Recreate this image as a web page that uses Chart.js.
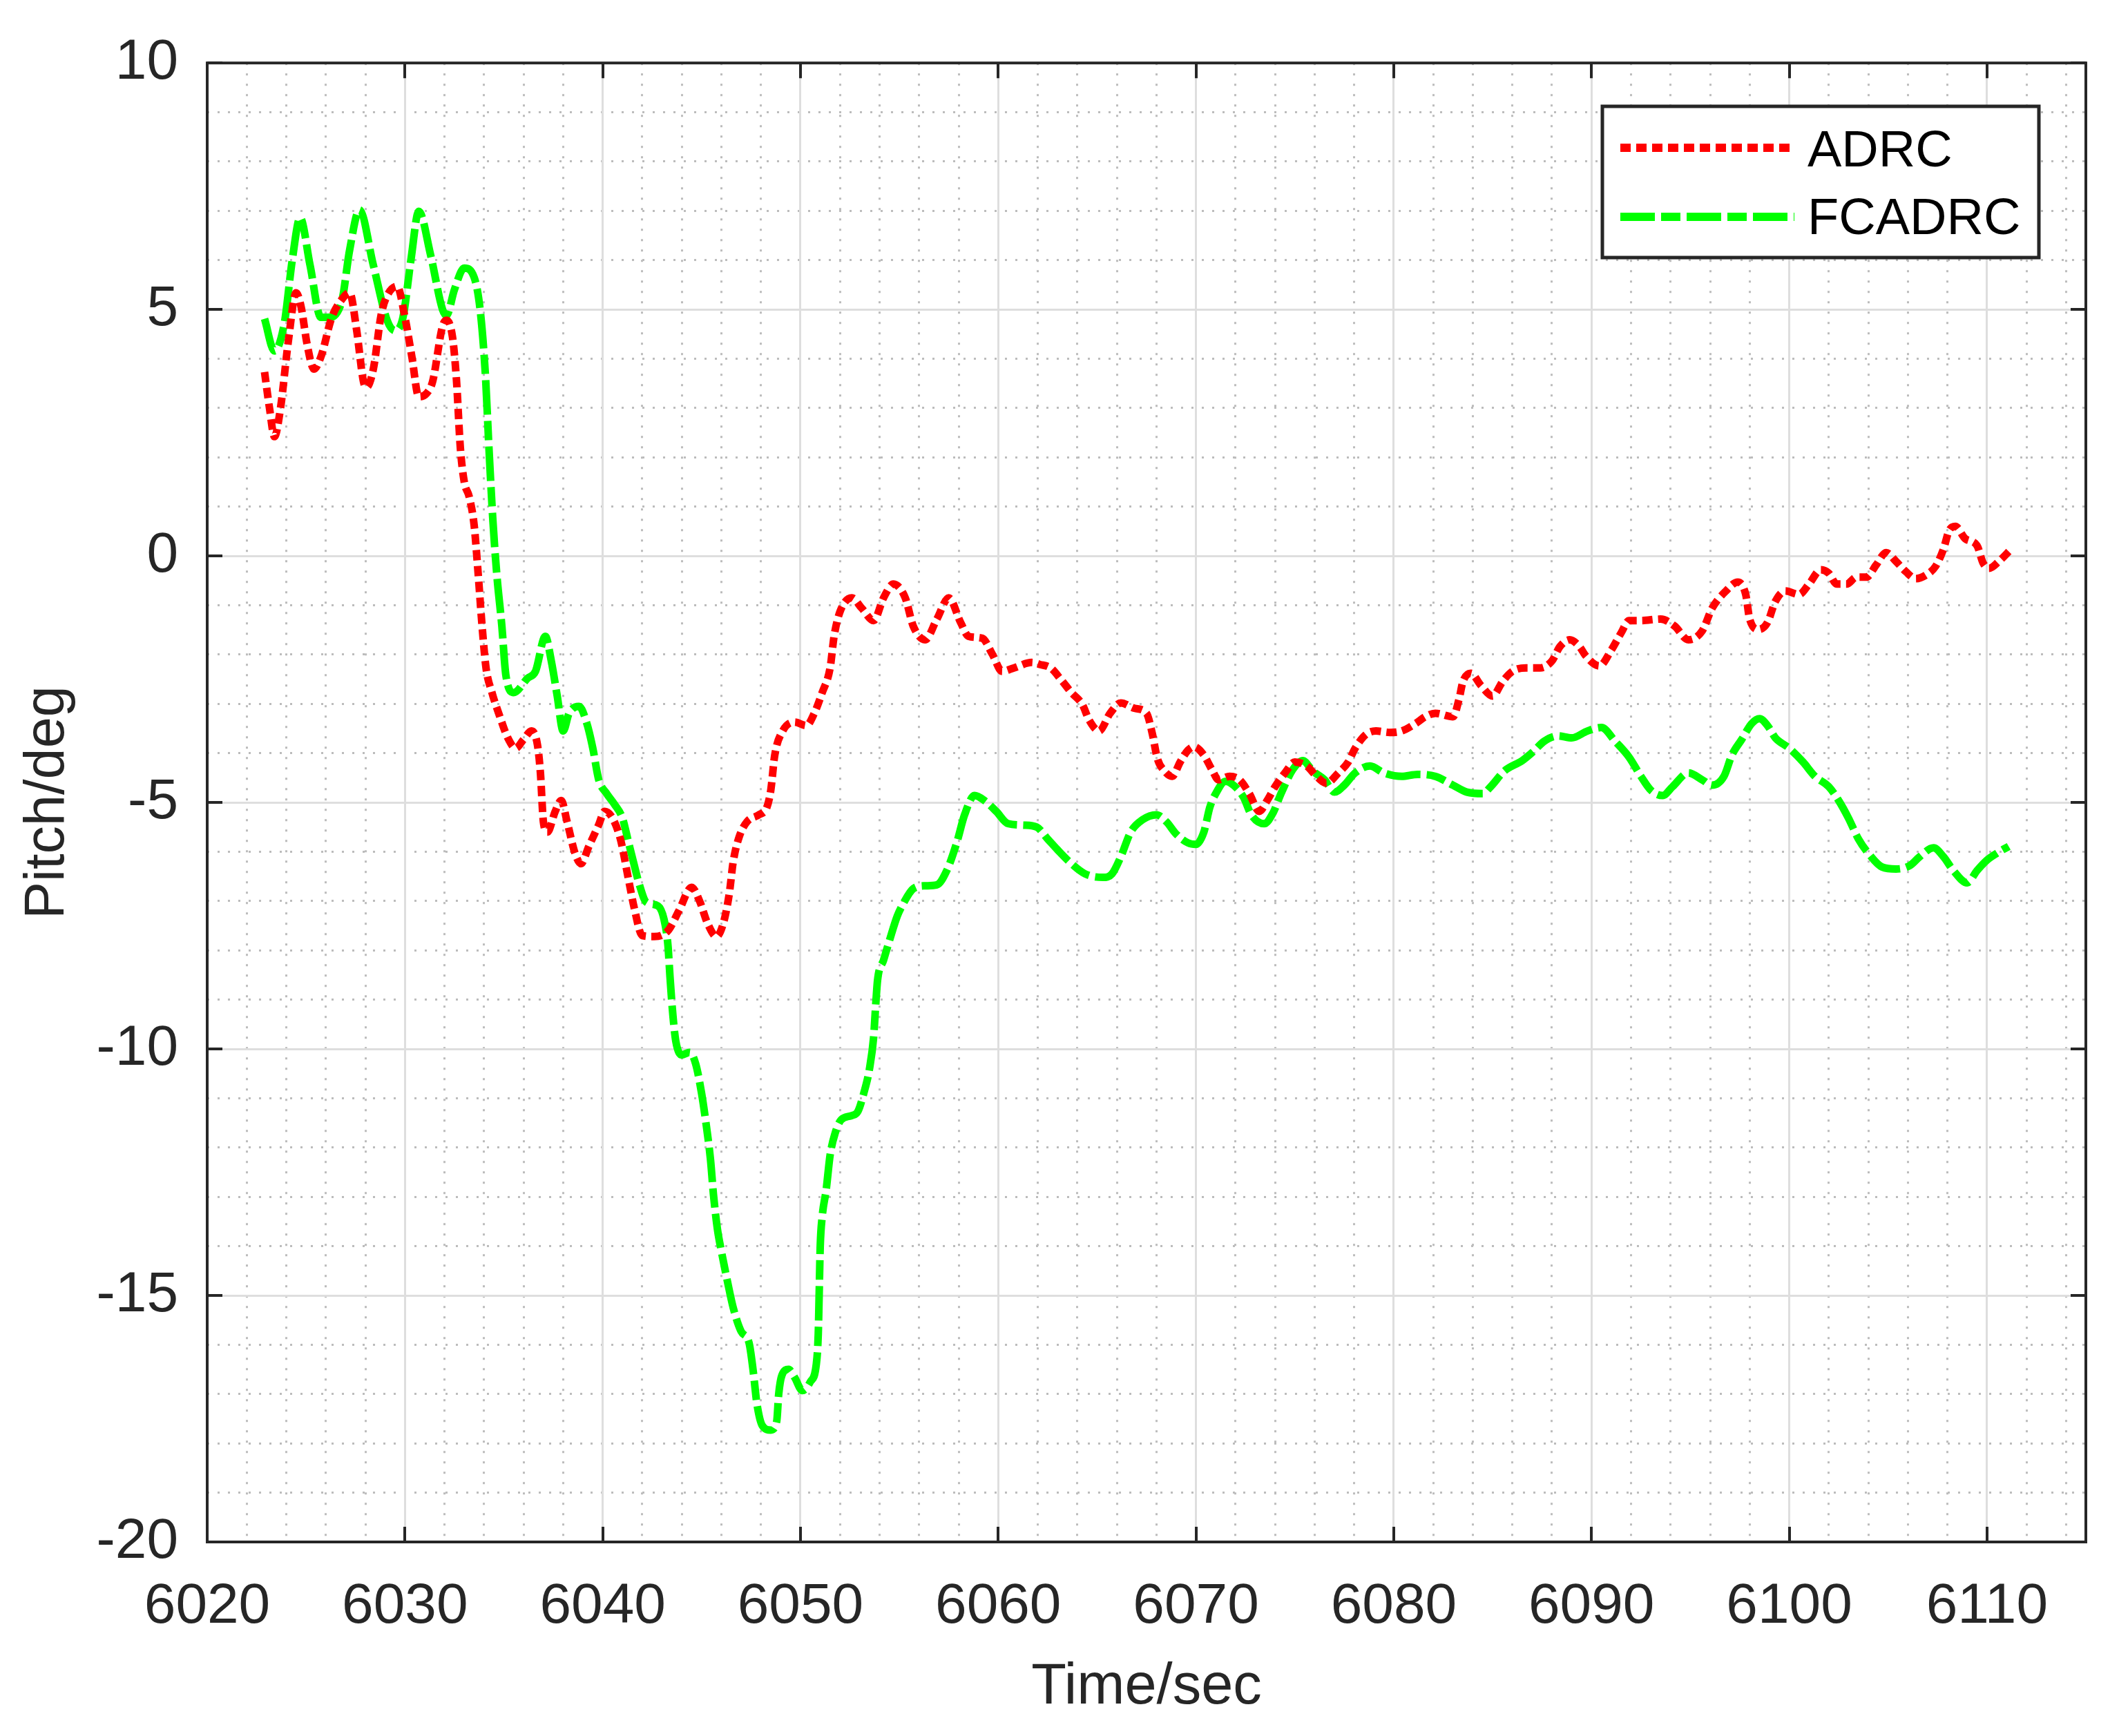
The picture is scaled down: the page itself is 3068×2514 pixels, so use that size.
<!DOCTYPE html>
<html>
<head>
<meta charset="utf-8">
<script src="https://cdn.jsdelivr.net/npm/chart.js@4.4.1/dist/chart.umd.min.js"></script>
<style>
html,body{margin:0;padding:0;background:#ffffff;}
canvas{display:block;}
</style>
</head>
<body>
<canvas id="c" width="3068" height="2514"></canvas>
<script>
// ---------------- data ----------------
const seriesLabels = ['ADRC', 'FCADRC'];
const xTitle = 'Time/sec';
const yTitle = 'Pitch/deg';
const xTickValues = [6020, 6030, 6040, 6050, 6060, 6070, 6080, 6090, 6100, 6110];
const yTickValues = [-20, -15, -10, -5, 0, 5, 10];

const adrcTime = [
6022.9,6023.15,6023.4,6023.7,6024.1,6024.5,6024.75,6025.05,6025.4,6025.75,6026.3,6026.8,6027.2,6027.55,6027.9,6028.05,6028.4,6028.8,6029.1,6029.6,
6030.0,6030.35,6030.7,6031.1,6031.4,6031.9,6032.1,6032.4,6032.6,6032.8,6033.0,6033.25,6033.5,6033.7,6033.9,6034.1,6034.4,6034.8,6035.2,6035.6,
6036.0,6036.4,6036.7,6036.85,6037.0,6037.2,6037.6,6037.9,6038.2,6038.6,6038.9,6039.3,6039.8,6040.1,6040.5,6040.9,6041.3,6041.6,6042.0,6042.6,
6043.3,6043.85,6044.5,6044.9,6045.3,6045.75,6046.1,6046.4,6046.6,6046.9,6047.3,6047.9,6048.3,6048.5,6048.7,6049.1,6049.7,6050.3,6050.7,6051.1,
6051.5,6051.7,6052.0,6052.6,6053.1,6053.7,6054.2,6054.7,6055.3,6055.7,6056.3,6056.9,6057.5,6058.1,6058.5,6059.2,6059.7,6060.2,6060.8,6061.7,
6062.1,6062.65,6063.2,6063.7,6064.25,6064.6,6065.1,6065.66,6066.2,6066.9,6067.5,6067.8,6068.05,6068.4,6068.8,6069.2,6069.6,6069.9,6070.4,6070.8,
6071.15,6071.7,6072.2,6072.7,6073.2,6073.6,6074.0,6074.5,6075.0,6075.6,6076.1,6076.6,6077.2,6077.7,6078.05,6078.6,6079.1,6079.8,6080.4,6081.1,
6081.6,6082.1,6083.0,6083.3,6083.5,6083.9,6084.4,6085.0,6085.5,6086.0,6086.7,6087.4,6088.0,6088.4,6088.9,6089.4,6089.7,6090.4,6091.0,6091.5,
6091.9,6092.5,6093.5,6094.2,6094.9,6095.6,6096.1,6096.8,6097.4,6097.8,6098.0,6098.46,6098.9,6099.3,6099.8,6100.5,6101.0,6101.6,6102.0,6102.4,
6102.9,6103.4,6103.9,6104.4,6104.9,6105.4,6105.9,6106.4,6106.9,6107.4,6107.8,6108.1,6108.4,6108.9,6109.5,6109.8,6110.1,6110.6,6111.15
];
const adrcPitch = [
3.73,3.0,2.42,2.98,4.35,5.34,5.05,4.3,3.79,4.04,4.84,5.2,5.34,4.6,3.54,3.42,3.79,4.9,5.28,5.47,
4.84,4.04,3.23,3.3,3.54,4.66,4.78,4.45,3.6,2.2,1.5,1.2,0.62,-0.35,-1.42,-2.27,-2.77,-3.26,-3.69,-3.9,
-3.72,-3.55,-3.83,-4.4,-5.39,-5.6,-5.18,-4.96,-5.39,-6.03,-6.24,-5.89,-5.45,-5.18,-5.32,-5.75,-6.55,-7.15,-7.7,-7.72,
-7.6,-7.2,-6.72,-7.0,-7.45,-7.72,-7.45,-6.85,-6.2,-5.7,-5.39,-5.25,-5.1,-4.75,-4.04,-3.55,-3.37,-3.44,-3.19,-2.77,
-2.27,-1.63,-1.13,-0.85,-1.06,-1.31,-0.85,-0.57,-0.85,-1.42,-1.7,-1.28,-0.85,-1.35,-1.63,-1.67,-1.99,-2.34,-2.27,-2.16,
-2.2,-2.27,-2.52,-2.77,-3.01,-3.33,-3.55,-3.19,-2.98,-3.09,-3.19,-3.62,-4.11,-4.36,-4.47,-4.18,-3.94,-3.87,-4.04,-4.33,
-4.54,-4.47,-4.54,-4.82,-5.18,-4.96,-4.68,-4.4,-4.18,-4.26,-4.47,-4.61,-4.4,-4.18,-3.9,-3.62,-3.55,-3.58,-3.55,-3.4,
-3.26,-3.19,-3.26,-2.91,-2.55,-2.38,-2.62,-2.84,-2.55,-2.34,-2.27,-2.27,-2.13,-1.84,-1.7,-1.84,-2.02,-2.23,-1.91,-1.56,
-1.31,-1.31,-1.28,-1.42,-1.7,-1.52,-1.06,-0.71,-0.53,-0.78,-1.28,-1.49,-1.35,-0.92,-0.71,-0.78,-0.57,-0.28,-0.35,-0.57,
-0.57,-0.43,-0.43,-0.18,0.07,-0.11,-0.32,-0.46,-0.39,-0.21,0.14,0.53,0.6,0.35,0.21,-0.14,-0.25,-0.11,0.11
];

const fcadrcTime = [
6022.9,6023.4,6023.9,6024.3,6024.7,6025.2,6025.75,6026.1,6026.8,6027.2,6027.7,6028.4,6029.1,6029.5,6029.9,6030.3,6030.7,6031.3,6031.9,6032.1,
6032.5,6033.0,6033.5,6033.8,6034.07,6034.25,6034.45,6034.65,6034.9,6035.1,6035.5,6036.2,6036.6,6037.1,6037.4,6037.7,6038.0,6038.3,6038.8,6039.2,
6039.5,6039.8,6040.2,6040.6,6041.0,6041.3,6041.55,6041.85,6042.2,6042.8,6043.1,6043.3,6043.4,6043.55,6043.7,6044.0,6044.4,6044.7,6045.0,6045.2,
6045.45,6045.6,6045.8,6046.0,6046.3,6046.6,6047.0,6047.4,6047.6,6047.8,6048.07,6048.5,6048.8,6048.9,6049.06,6049.4,6049.7,6050.1,6050.5,6050.8,
6050.9,6050.95,6051.0,6051.1,6051.3,6051.5,6051.76,6052.05,6052.6,6052.9,6053.2,6053.5,6053.7,6053.8,6053.9,6054.2,6054.5,6054.9,6055.2,6055.7,
6056.3,6056.9,6057.4,6057.9,6058.3,6058.8,6059.3,6059.9,6060.5,6061.3,6061.95,6062.5,6063.0,6063.7,6064.4,6065.3,6065.75,6066.2,6066.7,6067.3,
6068.0,6068.5,6069.0,6069.6,6070.0,6070.4,6070.7,6071.0,6071.5,6071.9,6072.4,6072.8,6073.45,6073.9,6074.3,6074.9,6075.4,6075.9,6076.5,6077.0,
6077.5,6078.05,6078.8,6079.5,6080.4,6081.2,6082.1,6083.0,6083.7,6084.5,6084.9,6085.6,6086.5,6087.05,6087.6,6088.3,6089.0,6089.8,6090.5,6091.2,
6091.9,6092.5,6093.0,6093.6,6094.1,6094.9,6095.6,6096.1,6096.7,6097.1,6097.6,6098.1,6098.5,6098.9,6099.3,6100.0,6100.7,6101.3,6102.0,6102.5,
6103.0,6103.5,6104.0,6104.7,6105.4,6106.1,6106.6,6107.3,6107.8,6108.3,6109.0,6109.5,6110.0,6110.5,6111.1
];
const fcadrcPitch = [
4.81,4.16,4.72,6.0,6.86,5.9,4.84,4.84,5.16,6.2,7.02,5.9,4.78,4.57,4.84,6.0,6.99,6.1,5.0,4.88,
5.4,5.84,5.65,5.0,3.66,2.17,0.7,-0.4,-1.42,-2.41,-2.77,-2.48,-2.34,-1.63,-2.13,-2.84,-3.55,-3.19,-3.05,-3.4,
-3.9,-4.54,-4.82,-5.04,-5.32,-5.8,-6.2,-6.66,-7.02,-7.1,-7.37,-7.9,-8.52,-9.32,-9.85,-10.12,-10.07,-10.3,-10.9,-11.44,
-12.24,-12.95,-13.65,-14.1,-14.7,-15.25,-15.73,-15.96,-16.5,-17.2,-17.64,-17.73,-17.55,-17.0,-16.62,-16.5,-16.66,-16.93,-16.75,-16.4,
-15.78,-14.9,-14.0,-13.4,-12.86,-12.15,-11.7,-11.44,-11.35,-11.27,-10.9,-10.38,-9.76,-9.14,-8.6,-8.2,-7.8,-7.3,-7.05,-6.75,
-6.69,-6.67,-6.38,-5.82,-5.25,-4.86,-4.96,-5.18,-5.43,-5.46,-5.5,-5.74,-5.96,-6.24,-6.45,-6.52,-6.45,-6.1,-5.6,-5.35,
-5.25,-5.39,-5.64,-5.82,-5.85,-5.6,-5.1,-4.82,-4.57,-4.65,-4.89,-5.25,-5.43,-5.21,-4.82,-4.33,-4.15,-4.36,-4.54,-4.79,
-4.65,-4.4,-4.26,-4.4,-4.47,-4.43,-4.47,-4.65,-4.79,-4.82,-4.68,-4.36,-4.15,-3.97,-3.76,-3.65,-3.69,-3.55,-3.48,-3.76,
-4.08,-4.47,-4.75,-4.86,-4.68,-4.4,-4.54,-4.65,-4.47,-4.04,-3.72,-3.4,-3.3,-3.44,-3.69,-3.9,-4.18,-4.47,-4.68,-4.96,
-5.32,-5.74,-6.03,-6.31,-6.35,-6.28,-6.1,-5.92,-6.1,-6.38,-6.63,-6.38,-6.17,-6.03,-5.89
];

// ---------------- styling ----------------
const FONT = '"Liberation Sans", Arial, Helvetica, sans-serif';
const TEXT = '#262626';
const X_MIN = 6020, X_MAX = 6115, Y_MIN = -20, Y_MAX = 10;

const toPoints = (xs, ys) => xs.map((x, i) => ({ x: x, y: ys[i] }));

const framePlugin = {
  id: 'frameAndLegend',
  afterDraw(chart) {
    const ctx = chart.ctx;
    const a = chart.chartArea;
    const sx = chart.scales.x, sy = chart.scales.y;
    ctx.save();
    // inward tick marks
    ctx.strokeStyle = TEXT;
    ctx.lineWidth = 4;
    const L = 22;
    ctx.beginPath();
    xTickValues.forEach(v => {
      const px = Math.round(sx.getPixelForValue(v));
      ctx.moveTo(px, a.bottom); ctx.lineTo(px, a.bottom - L);
      ctx.moveTo(px, a.top); ctx.lineTo(px, a.top + L);
    });
    yTickValues.forEach(v => {
      const py = Math.round(sy.getPixelForValue(v));
      ctx.moveTo(a.left, py); ctx.lineTo(a.left + L, py);
      ctx.moveTo(a.right, py); ctx.lineTo(a.right - L, py);
    });
    ctx.stroke();
    // axes box
    ctx.strokeRect(a.left, a.top, a.right - a.left, a.bottom - a.top);

    // legend box
    const box = { left: 2320, top: 154, right: 2952, bottom: 373 };
    ctx.fillStyle = '#ffffff';
    ctx.fillRect(box.left, box.top, box.right - box.left, box.bottom - box.top);
    ctx.strokeStyle = TEXT;
    ctx.lineWidth = 5;
    ctx.strokeRect(box.left, box.top, box.right - box.left, box.bottom - box.top);
    const rowsLine = [214, 314];
    const rowsText = [221, 319];
    chart.data.datasets.forEach((ds, i) => {
      ctx.save();
      ctx.strokeStyle = ds.borderColor;
      ctx.lineWidth = 12;
      ctx.lineCap = 'butt';
      ctx.setLineDash(ds.borderDash || []);
      ctx.beginPath();
      ctx.moveTo(2346, rowsLine[i]);
      ctx.lineTo(2598, rowsLine[i]);
      ctx.stroke();
      ctx.restore();
      ctx.fillStyle = '#000000';
      ctx.font = '74px ' + FONT;
      ctx.textAlign = 'left';
      ctx.textBaseline = 'middle';
      ctx.fillText(ds.label, 2617, rowsText[i]);
    });
    ctx.restore();
  }
};

const minorGridColor = '#bcbcbc';

new Chart(document.getElementById('c'), {
  type: 'line',
  data: {
    datasets: [
      {
        label: seriesLabels[0],
        data: toPoints(adrcTime, adrcPitch),
        borderColor: '#ff0000',
        backgroundColor: '#ff0000',
        borderWidth: 11,
        borderDash: [15, 8],
        borderCapStyle: 'butt',
        borderJoinStyle: 'round',
        pointRadius: 0,
        cubicInterpolationMode: 'monotone',
        fill: false
      },
      {
        label: seriesLabels[1],
        data: toPoints(fcadrcTime, fcadrcPitch),
        borderColor: '#00ff00',
        backgroundColor: '#00ff00',
        borderWidth: 11,
        borderDash: [50, 9, 28, 9],
        borderCapStyle: 'butt',
        borderJoinStyle: 'round',
        pointRadius: 0,
        cubicInterpolationMode: 'monotone',
        fill: false
      }
    ]
  },
  options: {
    responsive: false,
    animation: false,
    devicePixelRatio: 1,
    layout: { padding: { left: 0, right: 48, top: 88, bottom: 0 } },
    plugins: {
      legend: { display: false },
      tooltip: { enabled: false }
    },
    scales: {
      xMinor: {
        type: 'linear', position: 'bottom', min: X_MIN, max: X_MAX,
        afterBuildTicks: s => { const t = []; for (let v = X_MIN; v < X_MAX; v += 2) { if (v % 10 !== 0) t.push({ value: v }); } s.ticks = t; },
        ticks: { display: false },
        grid: { drawTicks: false, color: minorGridColor, lineWidth: 3 },
        border: { display: false, dash: [3, 12] },
        afterFit: s => { s.height = 0; }
      },
      yMinor: {
        type: 'linear', position: 'left', min: Y_MIN, max: Y_MAX,
        afterBuildTicks: s => { const t = []; for (let v = Y_MIN; v < Y_MAX; v += 1) { if (v % 5 !== 0) t.push({ value: v }); } s.ticks = t; },
        ticks: { display: false },
        grid: { drawTicks: false, color: minorGridColor, lineWidth: 3 },
        border: { display: false, dash: [3, 12] },
        afterFit: s => { s.width = 0; }
      },
      x: {
        type: 'linear', position: 'bottom', min: X_MIN, max: X_MAX,
        afterBuildTicks: s => { s.ticks = xTickValues.map(v => ({ value: v })); },
        ticks: {
          autoSkip: false, maxRotation: 0, minRotation: 0, padding: 45,
          color: TEXT, font: { family: FONT, size: 82 },
          callback: v => String(v)
        },
        grid: { drawTicks: false, color: '#dedede', lineWidth: 3 },
        border: { display: false },
        title: { display: true, text: xTitle, color: TEXT, font: { family: FONT, size: 83 }, padding: { top: 0, bottom: 20 } },
        afterFit: s => { s.height = 281; }
      },
      y: {
        type: 'linear', position: 'left', min: Y_MIN, max: Y_MAX,
        afterBuildTicks: s => { s.ticks = yTickValues.map(v => ({ value: v })); },
        ticks: {
          autoSkip: false, padding: 42,
          color: TEXT, font: { family: FONT, size: 82 },
          callback: v => String(v)
        },
        grid: { drawTicks: false, color: '#dedede', lineWidth: 3 },
        border: { display: false },
        title: { display: true, text: yTitle, color: TEXT, font: { family: FONT, size: 81 }, padding: { top: 21, bottom: 0 } },
        afterFit: s => { s.width = 300; }
      }
    }
  },
  plugins: [framePlugin]
});
</script>
</body>
</html>
